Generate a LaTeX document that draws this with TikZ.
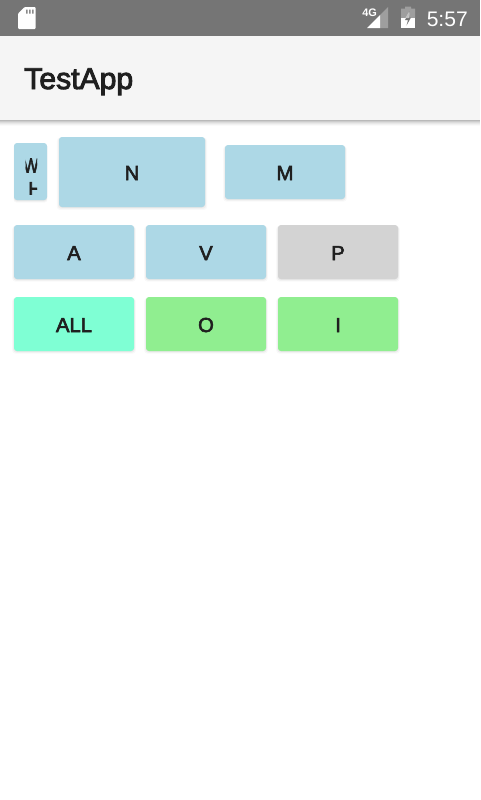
\documentclass[tikz,border=0pt]{standalone}
\usepackage{fontspec}
\setmainfont{Liberation Sans}
\newfontfamily\medfont[FakeBold=3]{Liberation Sans}
\usetikzlibrary{shadows}
\definecolor{statusgray}{HTML}{757575}
\definecolor{barwhite}{HTML}{F5F5F5}
\definecolor{lblue}{HTML}{ADD8E6}
\definecolor{lgray}{HTML}{D3D3D3}
\definecolor{aqua}{HTML}{7FFFD4}
\definecolor{lgreen}{HTML}{90EE90}
\definecolor{ink}{HTML}{1F1F1F}
\tikzset{
  x=0.75pt,y=-0.75pt,
  softshadow/.style={
    general shadow={fill=black,opacity=.025,shadow yshift=-1.3pt,rounded corners=3pt,shadow scale=1.03},
    general shadow={fill=black,opacity=.04,shadow yshift=-.9pt,rounded corners=2.5pt,shadow scale=1.015},
    general shadow={fill=black,opacity=.05,shadow yshift=-.4pt,rounded corners=2.25pt}},
  btn/.style={softshadow,rounded corners=2.25pt,inner sep=0pt,outer sep=0pt,minimum width=90pt,minimum height=40.5pt,
    text height=12pt,text depth=0pt,font=\medfont\fontsize{15.2pt}{18pt}\selectfont,text=ink},
  iconwhite/.style={fill=white,draw=none},
  icondim/.style={fill=white,fill opacity=.3,draw=none},
  statustext/.style={text=white,inner sep=0pt},
  titletext/.style={text=ink,inner sep=0pt,anchor=base west,font=\medfont\fontsize{22.6pt}{26pt}\selectfont},
  clippedtext/.style={text=ink,inner sep=0pt,anchor=base,font=\medfont\fontsize{15.2pt}{18pt}\selectfont},
}
\begin{document}
\begin{tikzpicture}
\useasboundingbox (0,0) rectangle (480,800);
\fill[white] (0,0) rectangle (480,800);
% app bar shadow
\foreach \d/\o in {6/.02,5/.03,4/.04,3/.05,2/.07,1/.09}{
  \fill[black,opacity=\o] (0,120) rectangle (480,120+\d);
}
\fill[barwhite] (0,36) rectangle (480,120);
\fill[statusgray] (0,0) rectangle (480,36);
\node[titletext] (title) at (24,89) {TestApp};
% SD card icon
\fill[iconwhite,rounded corners=.8pt] (24.5,7) -- (35.7,7) -- (35.7,29) -- (18,29) -- (18,13.5) -- cycle;
\fill[statusgray!85!white] (26,9.5) rectangle (27.6,13.5) (29,9.5) rectangle (30.6,13.5) (32,9.5) rectangle (33.6,13.5);
% signal icon
\node[statustext,anchor=base west,font=\bfseries\fontsize{8.2pt}{9pt}\selectfont] (net) at (362,16) {4G};
\fill[iconwhite] (367,28) -- (380,15) -- (380,28) -- cycle;
\fill[icondim] (380,15) -- (388,7) -- (388,28) -- (380,28) -- cycle;
% battery icon
\fill[icondim] (405,8.5) -- (405,6.5) -- (411,6.5) -- (411,8.5) -- (415,8.5) -- (415,18) -- (401,18) -- (401,8.5) -- cycle;
\fill[iconwhite] (401,18) rectangle (415,28);
\fill[statusgray] (409.5,11) -- (405,20) -- (408,20) -- (406.5,25.5) -- (411,17.5) -- (408.5,17.5) -- cycle;
\fill[iconwhite,opacity=.55] (409.2,11.5) -- (405.5,18) -- (408.7,18) -- (409.5,14) -- cycle;
\node[statustext,anchor=base west,font=\fontsize{15.8pt}{18pt}\selectfont] (clock) at (426.5,26) {5:57};
% first row
\node[btn,fill=lblue,minimum width=24.75pt,minimum height=42.75pt] (w) at (30.5,171.5) {};
\begin{scope}
\clip (25.5,150) rectangle (37,194.5);
\node[clippedtext,xscale=.8] (wtext) at (31,172.5) {W};
\node[clippedtext] (htext) at (35.5,196) {H};
\end{scope}
\node[btn,fill=lblue,minimum width=109.5pt,minimum height=52.5pt] (n) at (132,172) {N};
\node[btn,fill=lblue] (m) at (285,172) {M};
% second row
\node[btn,fill=lblue] (a) at (74,252) {A};
\node[btn,fill=lblue] (v) at (206,252) {V};
\node[btn,fill=lgray] (p) at (338,252) {P};
% third row
\node[btn,fill=aqua] (all) at (74,324) {ALL};
\node[btn,fill=lgreen] (o) at (206,324) {O};
\node[btn,fill=lgreen] (i) at (338,324) {I};
\end{tikzpicture}
\end{document}
